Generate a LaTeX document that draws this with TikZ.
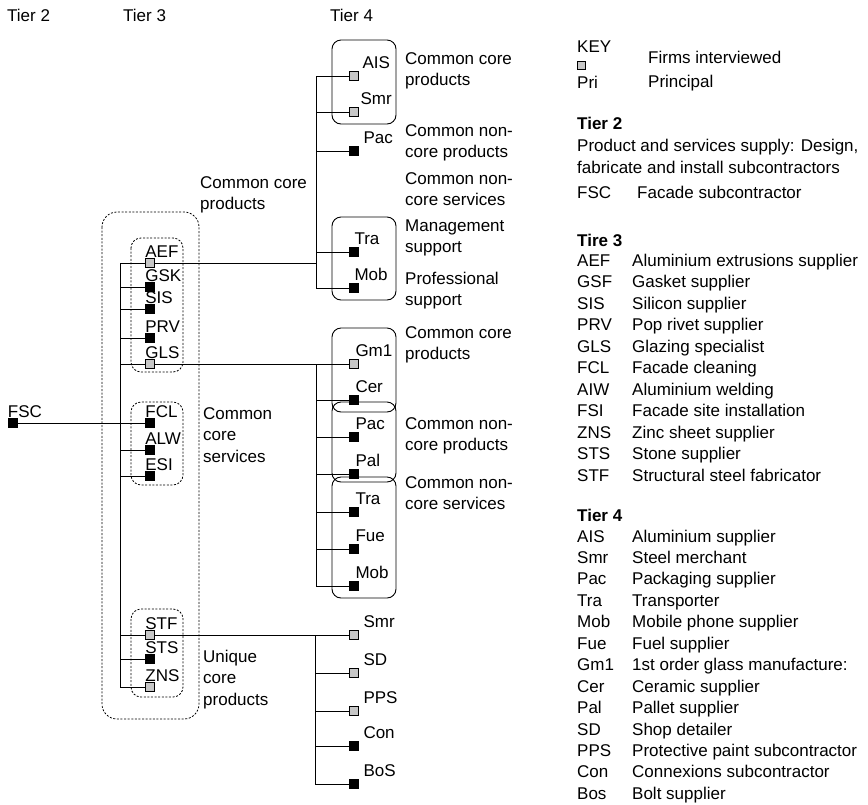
\documentclass[tikz,border=0pt]{standalone}
\usepackage{fontspec}
\setmainfont{Liberation Sans}
\usetikzlibrary{backgrounds}

\begin{document}
\begin{tikzpicture}[x=1pt,y=-1pt,
  every node/.style={font=\fontsize{17}{21.5}\selectfont},
  firm/.style={draw,fill=black,minimum size=9pt,inner sep=0pt,line width=.6pt},
  met/.style={firm,fill=black!22},
  code/.style={anchor=base west,inner sep=0pt},
  note/.style={anchor=base west,align=left,inner sep=0pt},
  head/.style={note,font=\fontsize{17}{21.5}\selectfont\bfseries},
  link/.style={line width=.8pt},
  cluster/.style={rounded corners=9pt,line width=.9pt},
  sector/.style={rounded corners=10pt,line width=.8pt,dash pattern=on 2pt off 1.6pt}
]
\useasboundingbox (0,0) rectangle (868,804);

% Tier headings
\node[note] (hT2) at (7,21) {Tier 2};
\node[note] (hT3) at (123,21) {Tier 3};
\node[note] (hT4) at (330,21) {Tier 4};

% Tier 2: the facade subcontractor
\node[firm] (fsc) at (12.5,423) {};
\node[code] (lfsc) at ([yshift=1pt]fsc.north west) {FSC};

% Tier 3 firms
\foreach \y/\n/\k in {263/AEF/met,287/GSK/firm,309/SIS/firm,338/PRV/firm,
    364/GLS/met,423/FCL/firm,450/ALW/firm,476/ESI/firm,
    635/STF/met,659/STS/firm,687/ZNS/met}{
  \node[\k] (s\n) at (150,\y) {};
  \node[code] (l\n) at ([yshift=1pt]s\n.north west) {\n};
}
\coordinate (j3) at (120,263);

% Tier 4, first group (fed by AEF)
\foreach \y/\n/\k/\dx in {76/AIS/met/3.5,112/Smr/met/1.5,151/Pac/firm/4.5,
    252/Tra/firm/-4.5,288/Mob/firm/-4.5}{
  \node[\k] (a\n) at (354,\y) {};
  \node[code] (la\n) at ([xshift=\dx pt,yshift=3pt]a\n.north east) {\n};
}
\coordinate (jA) at (316,263);

% Tier 4, second group (fed by GLS)
\foreach \y/\n/\k in {364/Gm1/met,400/Cer/firm,437/Pac/firm,474/Pal/firm,
    512/Tra/firm,549/Fue/firm,586/Mob/firm}{
  \node[\k] (b\n) at (354,\y) {};
  \node[code] (lb\n) at ([xshift=-3.5pt,yshift=3pt]b\n.north east) {\n};
}
\coordinate (jB) at (316,364);

% Tier 4, third group (fed by STF)
\foreach \y/\n/\k in {635/Smr/met,673/SD/met,711/PPS/met,746/Con/firm,784/BoS/firm}{
  \node[\k] (c\n) at (354,\y) {};
  \node[code] (lc\n) at ([xshift=4.5pt,yshift=3pt]c\n.north east) {\n};
}
\coordinate (jC) at (315,635);

% groupings
\draw[cluster] (332,40) rectangle (396,124);
\draw[cluster] (332,217) rectangle (396,300);
\draw[cluster] (332,328) rectangle (396,412);
\draw[cluster] (332,402) rectangle (396,482);
\draw[cluster] (332,477) rectangle (396,598);
\draw[sector,rounded corners=15pt] (102,212) rectangle (199,719);
\draw[sector] (131,238) rectangle (183,372);
\draw[sector] (131,402) rectangle (183,485);
\draw[sector] (131,609) rectangle (183,697);

% connectors sit behind the squares
\begin{scope}[on background layer]
  \draw[link] (fsc) -- (sFCL);
  \draw[link] (j3 |- sAEF) -- (j3 |- sZNS);
  \foreach \n in {AEF,GSK,SIS,PRV,GLS,ALW,ESI,STF,STS,ZNS}
    \draw[link] (s\n) -- (s\n -| j3);
  \draw[link] (sAEF) -- (jA);
  \draw[link] (jA |- aAIS) -- (jA |- aMob);
  \foreach \n in {AIS,Smr,Pac,Tra,Mob}
    \draw[link] (a\n) -- (a\n -| jA);
  \draw[link] (sGLS) -- (jB);
  \draw[link] (jB |- bGm1) -- (jB |- bMob);
  \foreach \n in {Gm1,Cer,Pac,Pal,Tra,Fue,Mob}
    \draw[link] (b\n) -- (b\n -| jB);
  \draw[link] (sSTF) -- (cSmr);
  \draw[link] (jC |- cSmr) -- (jC |- cBoS);
  \foreach \n in {SD,PPS,Con,BoS}
    \draw[link] (c\n) -- (c\n -| jC);
\end{scope}

% category notes (base anchor = baseline of last line)
\node[note] (nA1) at (405,85.5) {Common core\\products};
\node[note] (nA2) at (405,157.5) {Common non-\\core products};
\node[note] (nA3) at (405,205.5) {Common non-\\core services};
\node[note] (nA4) at (405,252.5) {Management\\support};
\node[note] (nA5) at (405,305.5) {Professional\\support};
\node[note] (nB1) at (405,359.5) {Common core\\products};
\node[note] (nB2) at (405,450.5) {Common non-\\core products};
\node[note] (nB3) at (405,509.5) {Common non-\\core services};
\node[note] (n31) at (200,209.5) {Common core\\products};
\node[note] (n32) at (203,462) {Common\\core\\services};
\node[note] (n33) at (203,705) {Unique\\core\\products};

% key
\node[note] (key) at (577,52) {KEY};
\node[met,minimum size=8pt] (keysq) at (581,65) {};
\node[note] (keyfirm) at (648,63) {Firms interviewed};
\node[note] (keypri) at (577,88) {Pri};
\node[note] (keyprin) at (648,87) {Principal};

\node[head] (kT2) at (577,129) {Tier 2};
\node[note] (kT2d) at (577,173)
  {Product and services supply: Design,\\fabricate and install subcontractors};
\node[note] (kFSC) at (577,198) {\makebox[60pt][l]{FSC}Facade subcontractor};

\node[head] (kT3) at (577,246) {Tire 3};
\foreach \c/\d [count=\i] in {AEF/Aluminium extrusions supplier,GSF/Gasket supplier,
    SIS/Silicon supplier,PRV/Pop rivet supplier,GLS/Glazing specialist,
    FCL/Facade cleaning,AIW/Aluminium welding,FSI/Facade site installation,
    ZNS/Zinc sheet supplier,STS/Stone supplier,STF/Structural steel fabricator}
  \node[note] (k3\c) at (577,{266+21.5*(\i-1)}) {\makebox[55pt][l]{\c}\d};

\node[head] (kT4) at (577,521) {Tier 4};
\foreach \c/\d [count=\i] in {AIS/Aluminium supplier,Smr/Steel merchant,
    Pac/Packaging supplier,Tra/Transporter,Mob/Mobile phone supplier,
    Fue/Fuel supplier,Gm1/1st order glass manufacture:,Cer/Ceramic supplier,
    Pal/Pallet supplier,SD/Shop detailer,PPS/Protective paint subcontractor,
    Con/Connexions subcontractor,Bos/Bolt supplier}
  \node[note] (k4\c) at (577,{542+21.45*(\i-1)}) {\makebox[55pt][l]{\c}\d};
\end{tikzpicture}
\end{document}
